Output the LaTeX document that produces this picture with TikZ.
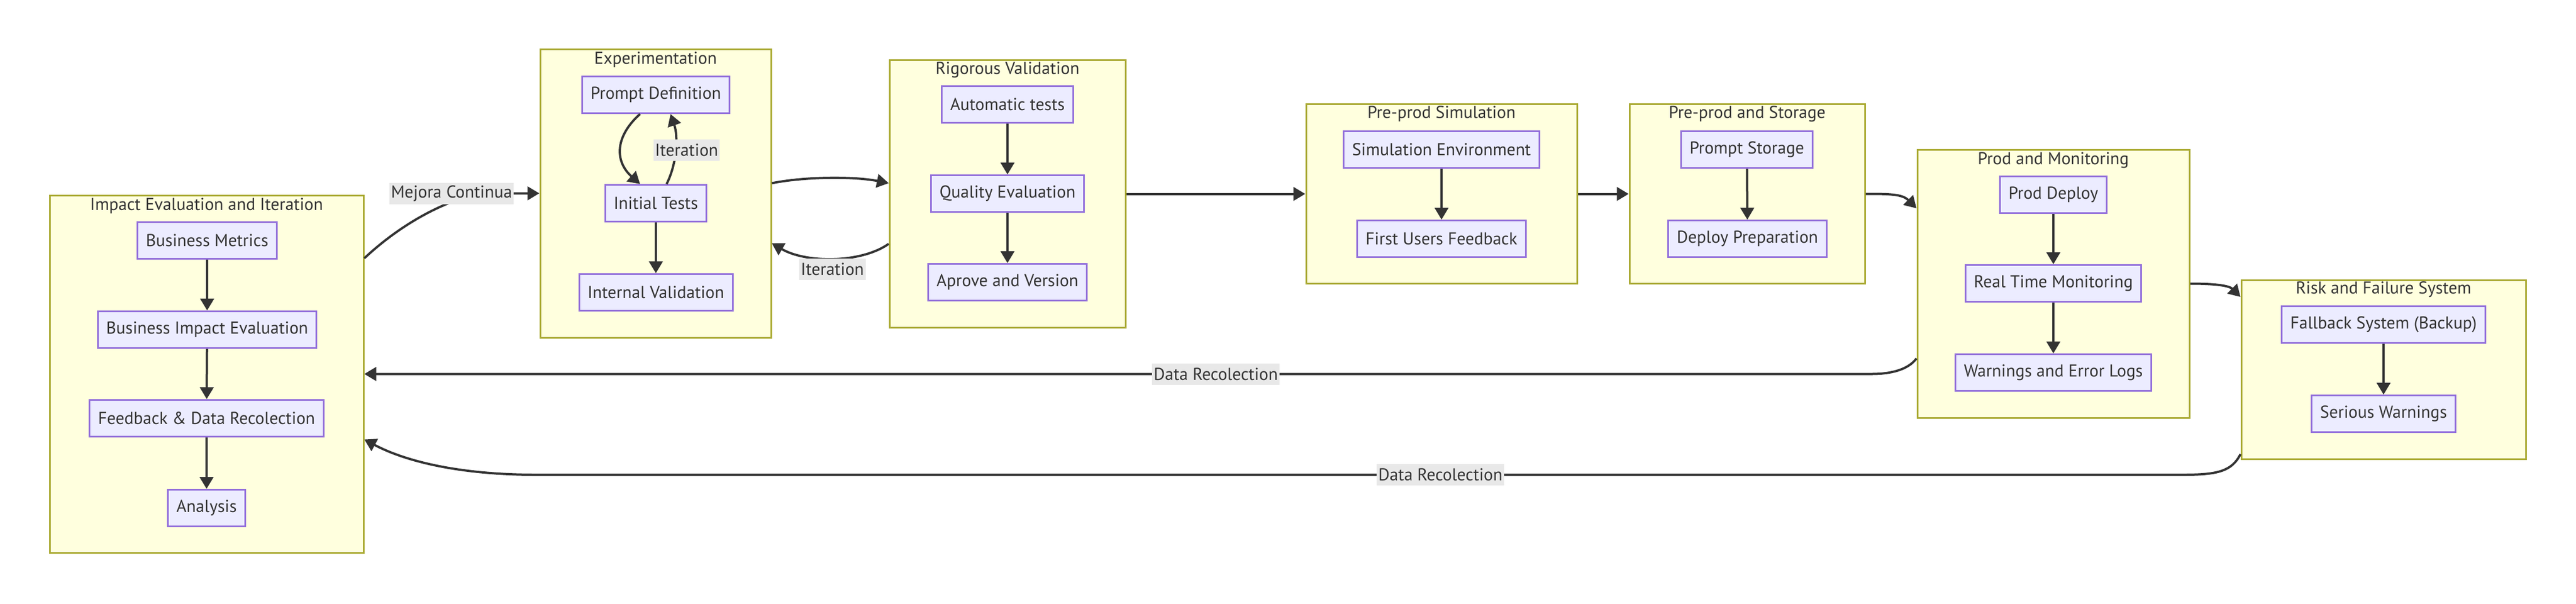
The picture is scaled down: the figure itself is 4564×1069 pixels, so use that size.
\documentclass[tikz,border=0pt]{standalone}
\usepackage{fontspec}
\setmainfont{PT Sans}
\usepackage{tikz}
\usetikzlibrary{arrows.meta}
\tikzset{box/.style = {draw = mpurple, fill = mlav, line width = 0.3mm, inner xsep = 1.5mm, minimum height = 6.5mm, text = mdark, font = \fontsize{8.7}{10}\selectfont}}
\tikzset{cluster/.style = {draw = molive, fill = mcream, line width = 0.3mm}}
\tikzset{ctitle/.style = {inner sep = 0, text = mdark, font = \fontsize{8.7}{10}\selectfont}}
\tikzset{lbl/.style = {fill = mgrey, inner xsep = 0.3mm, inner ysep = 0, minimum height = 3.8mm, text = mdark, font = \fontsize{8.7}{10}\selectfont}}
\tikzset{flow/.style = {draw = mdark, line width = 0.4mm, -{Triangle[length = 2.1mm, width = 2.4mm]}}}
\definecolor{mlav}{HTML}{ECECFF}
\definecolor{mpurple}{HTML}{9370DB}
\definecolor{mcream}{HTML}{FFFFDE}
\definecolor{molive}{HTML}{AAAA33}
\definecolor{mdark}{HTML}{333333}
\definecolor{mgrey}{HTML}{E8E8E8}
\begin{document}
\begin{tikzpicture}[x = 0.1mm, y = -0.1mm]
      \useasboundingbox (0, 0) rectangle (4564, 1069);

      \node [cluster, minimum width = 55.6mm, minimum height = 63.3mm] (impact) at (366, 662.5) {};
      \node [ctitle] at ([yshift = -2mm]impact.north) {Impact Evaluation and Iteration};
      \node [cluster, minimum width = 40.9mm, minimum height = 51.1mm] (exper) at (1161.5, 342.5) {};
      \node [ctitle] at ([yshift = -2mm]exper.north) {Experimentation};
      \node [cluster, minimum width = 41.8mm, minimum height = 47.4mm] (rigor) at (1785, 343.5) {};
      \node [ctitle] at ([yshift = -1.9mm]rigor.north) {Rigorous Validation};
      \node [cluster, minimum width = 48mm, minimum height = 31.8mm] (presim) at (2554, 343.5) {};
      \node [ctitle] at ([yshift = -1.9mm]presim.north) {Pre-prod Simulation};
      \node [cluster, minimum width = 41.7mm, minimum height = 31.8mm] (prestore) at (3095.5, 343.5) {};
      \node [ctitle] at ([yshift = -1.9mm]prestore.north) {Pre-prod and Storage};
      \node [cluster, minimum width = 48.2mm, minimum height = 47.5mm] (prod) at (3638, 502.5) {};
      \node [ctitle] at ([yshift = -2mm]prod.north) {Prod and Monitoring};
      \node [cluster, minimum width = 50.4mm, minimum height = 31.7mm] (risk) at (4223, 654.5) {};
      \node [ctitle] at ([yshift = -1.8mm]risk.north) {Risk and Failure System};

      \node [box] (metrics) at (367, 426) {Business Metrics};
      \node [box] (bizeval) at (367, 584) {Business Impact Evaluation};
      \node [box] (feedback) at (366, 741) {Feedback \& Data Recolection};
      \node [box] (analysis) at (366, 900) {Analysis};

      \node [box] (promptdef) at (1162, 168) {Prompt Definition};
      \node [box] (inittests) at (1162, 360) {Initial Tests};
      \node [box] (intval) at (1162, 518) {Internal Validation};

      \node [box] (autotests) at (1785, 185) {Automatic tests};
      \node [box] (quality) at (1785, 343) {Quality Evaluation};
      \node [box] (approve) at (1785, 500) {Aprove and Version};

      \node [box] (simenv) at (2554, 265) {Simulation Environment};
      \node [box] (firstfb) at (2554, 423) {First Users Feedback};
      \node [box] (storage) at (3095, 265) {Prompt Storage};
      \node [box] (deployprep) at (3096, 423) {Deploy Preparation};

      \node [box] (proddeploy) at (3638, 345) {Prod Deploy};
      \node [box] (monitor) at (3638, 502) {Real Time Monitoring};
      \node [box] (errlogs) at (3638, 660) {Warnings and Error Logs};
      \node [box] (fallback) at (4223, 575) {Fallback System (Backup)};
      \node [box] (serious) at (4223, 733) {Serious Warnings};

      \foreach \a/\b in {metrics/bizeval, bizeval/feedback, feedback/analysis, inittests/intval, autotests/quality, quality/approve, simenv/firstfb, storage/deployprep, proddeploy/monitor, monitor/errlogs, fallback/serious} {
        \draw [flow] (\a) -- (\b);
      }

      \draw [flow] ([yshift = 20.5mm]impact.east) .. controls +(80, -75) and +(-50, 0) .. ([xshift = -8.7mm]exper.west) -- (exper.west);
      \node [lbl] at (800, 343) {Mejora Continua};

      \draw [flow] ([xshift = -2.8mm]promptdef.south) .. controls +(-45, 40) and +(-45, -40) .. ([xshift = -2.8mm]inittests.north);
      \draw [flow] ([xshift = 1.9mm]inittests.north) .. controls +(18, -35) and +(14, 40) .. node [lbl, xshift = 2mm] {Iteration} ([xshift = 2.6mm]promptdef.south);

      \draw [flow] ([yshift = 1.8mm]exper.east) .. controls +(60, -12) and +(-60, -12) .. ([yshift = 1.9mm]rigor.west);
      \draw [flow] ([yshift = -8.85mm]rigor.west) .. controls +(-50, 35) and +(60, 35) .. node [lbl, yshift = -1.9mm] {Iteration} ([yshift = -8.85mm]exper.east);

      \draw [flow] (rigor.east) -- (presim.west);
      \draw [flow] (presim.east) -- (prestore.west);
      \draw [flow] (prestore.east) .. controls +(45, 0) and +(-25, -25) .. ([yshift = 13.35mm]prod.west);
      \draw [flow] (prod.east) .. controls +(45, 0) and +(-20, -20) .. ([yshift = 12.85mm]risk.west);

      \draw [flow] ([yshift = -13.25mm]prod.west) .. controls +(-15, 20) and +(35, 0) .. ([xshift = -8mm, yshift = -16mm]prod.west) -- node [lbl, pos = 0.435] {Data Recolection} (impact.east);
      \draw [flow] ([yshift = -15mm]risk.west) .. controls +(-15, 30) and +(60, 0) .. ([xshift = -10mm, yshift = -18.65mm]risk.west) -- node [lbl, pos = 0.451] {Data Recolection} ++(-2921, 0) .. controls +(-130, 0) and +(75, 40) .. ([yshift = -11.6mm]impact.east);
    \end{tikzpicture}
\end{document}
